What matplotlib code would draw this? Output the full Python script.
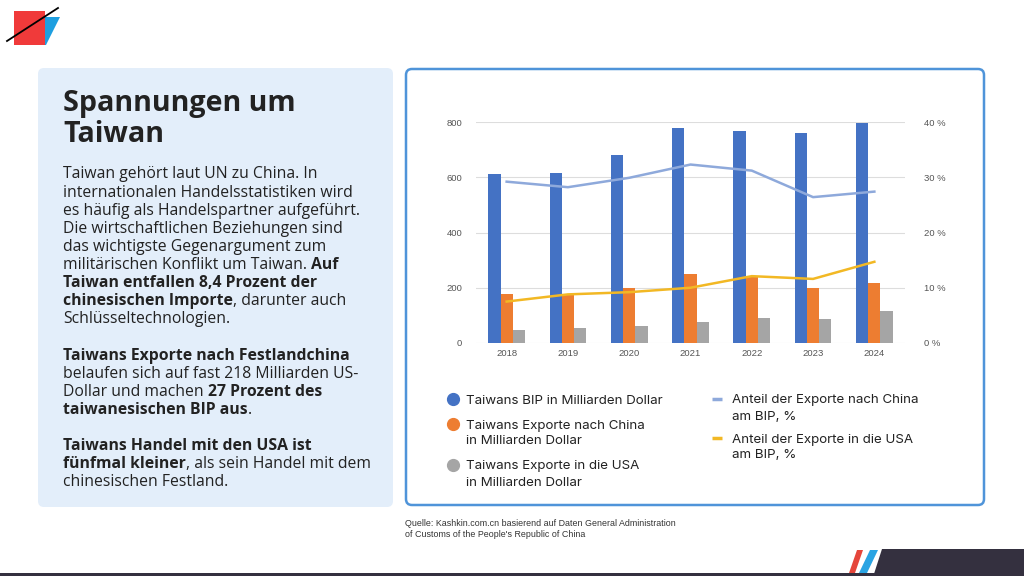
import matplotlib
matplotlib.use("Agg")
import matplotlib.pyplot as plt
from matplotlib.patches import FancyBboxPatch, Polygon, Rectangle
from matplotlib.lines import Line2D
import numpy as np

# ---------------- data ----------------
years = ["2018", "2019", "2020", "2021", "2022", "2023", "2024"]
gdp = [610, 615, 679, 778, 767, 759, 798]
exp_china = [177, 178, 200, 250, 238, 199, 218]
exp_usa = [46, 53, 60, 77, 92, 88, 117]
share_china = [29.2, 28.2, 29.9, 32.3, 31.2, 26.4, 27.4]
share_usa = [7.5, 8.8, 9.2, 10.0, 12.1, 11.6, 14.7]
left_ticks = [0, 200, 400, 600, 800]
right_ticks = [0, 10, 20, 30, 40]
right_tick_labels = ["0 %", "10 %", "20 %", "30 %", "40 %"]
bar_labels = ["Taiwans BIP in Milliarden Dollar",
              "Taiwans Exporte nach China\nin Milliarden Dollar",
              "Taiwans Exporte in die USA\nin Milliarden Dollar"]
line_labels = ["Anteil der Exporte nach China\nam BIP, %",
               "Anteil der Exporte in die USA\nam BIP, %"]
title_lines = ["Spannungen um", "Taiwan"]
body = [
    [("Taiwan gehört laut UN zu China. In", False)],
    [("internationalen Handelsstatistiken wird", False)],
    [("es häufig als Handelspartner aufgeführt.", False)],
    [("Die wirtschaftlichen Beziehungen sind", False)],
    [("das wichtigste Gegenargument zum", False)],
    [("militärischen Konflikt um Taiwan. ", False), ("Auf", True)],
    [("Taiwan entfallen 8,4 Prozent der", True)],
    [("chinesischen Importe", True), (", darunter auch", False)],
    [("Schlüsseltechnologien.", False)],
    [],
    [("Taiwans Exporte nach Festlandchina", True)],
    [("belaufen sich auf fast 218 Milliarden US-", False)],
    [("Dollar und machen ", False), ("27 Prozent des", True)],
    [("taiwanesischen BIP aus", True), (".", False)],
    [],
    [("Taiwans Handel mit den USA ist", True)],
    [("fünfmal kleiner", True), (", als sein Handel mit dem", False)],
    [("chinesischen Festland.", False)],
]
source = "Quelle: Kashkin.com.cn basierend auf Daten General Administration\nof Customs of the People's Republic of China"

# ---------------- style ----------------
C_BLUE = "#4472C4"
C_ORANGE = "#ED7D31"
C_GRAY = "#A5A5A5"
C_LBLUE = "#8EA9DB"
C_YELLOW = "#F2B824"
TXT = "#222222"
BODY_FONT = "Open Sans"

W, H = 1024, 576
fig = plt.figure(figsize=(W / 100, H / 100), dpi=100)
fig.patch.set_facecolor("white")

bg = fig.add_axes([0, 0, 1, 1])
bg.set_xlim(0, W)
bg.set_ylim(H, 0)
bg.axis("off")

# logo top-left
bg.add_patch(Polygon([(45, 17), (60, 17), (46, 45), (45, 45)], closed=True, color="#1E9FE0", lw=0))
bg.add_patch(Rectangle((14, 11), 31, 34, color="#F03A3A", lw=0))
bg.plot([7, 58], [41, 8], color="black", lw=1.3)

# bottom band
bg.add_patch(Rectangle((0, 573), W, 4, color="#34303F", lw=0))
bg.add_patch(Polygon([(873, 577), (882, 549), (W, 549), (W, 577)], closed=True, color="#34303F", lw=0))
bg.add_patch(Polygon([(849, 573), (855, 573), (863, 550), (857, 550)], closed=True, color="#E5463B", lw=0))
bg.add_patch(Polygon([(859, 573), (867, 573), (878, 550), (870, 550)], closed=True, color="#2AA4E3", lw=0))

# left panel
bg.add_patch(FancyBboxPatch((38, 68), 355, 439, boxstyle="round,pad=0,rounding_size=6",
                            facecolor="#E3EEFA", edgecolor="none"))
# chart panel
bg.add_patch(FancyBboxPatch((406, 69), 578, 436, boxstyle="round,pad=0,rounding_size=6",
                            facecolor="white", edgecolor="#4F94D9", lw=1.8))

# title
for i, t in enumerate(title_lines):
    bg.text(63, 111 + 31 * i, t, fontsize=20.6, fontweight="bold", family=BODY_FONT,
            color=TXT, va="baseline", ha="left")

# body with mixed weights
fig.canvas.draw()
renderer = fig.canvas.get_renderer()
for i, segs in enumerate(body):
    x = 63
    y = 178.5 + 18.1 * i
    for s, b in segs:
        t = bg.text(x, y, s, fontsize=11.3, family=BODY_FONT, fontweight="bold" if b else "normal",
                    color=TXT, va="baseline", ha="left")
        ext = t.get_window_extent(renderer)
        x += ext.width

# source
bg.text(405, 519, source, fontsize=6.4, family="Liberation Sans", color="#333333",
        va="top", ha="left", linespacing=1.25)

# ---------------- chart ----------------
ax = fig.add_axes([476 / W, 1 - 343 / H, (905 - 476) / W, (343 - 122) / H])
ax.set_facecolor("none")
x = np.arange(len(years))
bw = 0.2
ax.bar(x - bw, gdp, bw, color=C_BLUE, zorder=3)
ax.bar(x, exp_china, bw, color=C_ORANGE, zorder=3)
ax.bar(x + bw, exp_usa, bw, color=C_GRAY, zorder=3)
ax.set_xlim(-0.5, len(years) - 0.5)
ax.set_ylim(0, 800)
ax.set_yticks(left_ticks)
ax.set_xticks(x)
ax.set_xticklabels(years)
ax.grid(axis="y", color="#DDDDDD", lw=0.8, zorder=0)
for sp in ax.spines.values():
    sp.set_visible(False)
ax.tick_params(length=0, labelsize=6.8, labelcolor="#555555", pad=4)
ax.tick_params(axis="y", pad=10)
for lab in ax.get_xticklabels() + ax.get_yticklabels():
    lab.set_family("Liberation Sans")

ax2 = ax.twinx()
ax2.set_ylim(0, 40)
ax2.set_yticks(right_ticks)
ax2.set_yticklabels(right_tick_labels)
ax2.plot(x, share_china, color=C_LBLUE, lw=1.8, zorder=4)
ax2.plot(x, share_usa, color=C_YELLOW, lw=1.8, zorder=4)
for sp in ax2.spines.values():
    sp.set_visible(False)
ax2.tick_params(length=0, labelsize=6.8, labelcolor="#555555", pad=14)
for lab in ax2.get_yticklabels():
    lab.set_family("Liberation Sans")

# ---------------- legend (manual) ----------------
LEG_FONT = "Inter"
leg_fs = 9.6
col1_y = [399, 424, 465]
for lab, col, yy in zip(bar_labels, [C_BLUE, C_ORANGE, C_GRAY], col1_y):
    bg.add_line(Line2D([453], [yy], marker="o", markersize=8.5, color=col, lw=0))
    for k, ln in enumerate(lab.split("\n")):
        bg.text(466, yy + 4.5 + 16 * k, ln, fontsize=leg_fs, family=LEG_FONT, color=TXT,
                va="baseline", ha="left")
col2_y = [399, 438]
for lab, col, yy in zip(line_labels, [C_LBLUE, C_YELLOW], col2_y):
    bg.add_line(Line2D([712, 722], [yy, yy], color=col, lw=2.5, solid_capstyle="butt"))
    for k, ln in enumerate(lab.split("\n")):
        bg.text(732, yy + 4.5 + 16 * k, ln, fontsize=leg_fs, family=LEG_FONT, color=TXT,
                va="baseline", ha="left")

fig.savefig("out.png", dpi=100)
